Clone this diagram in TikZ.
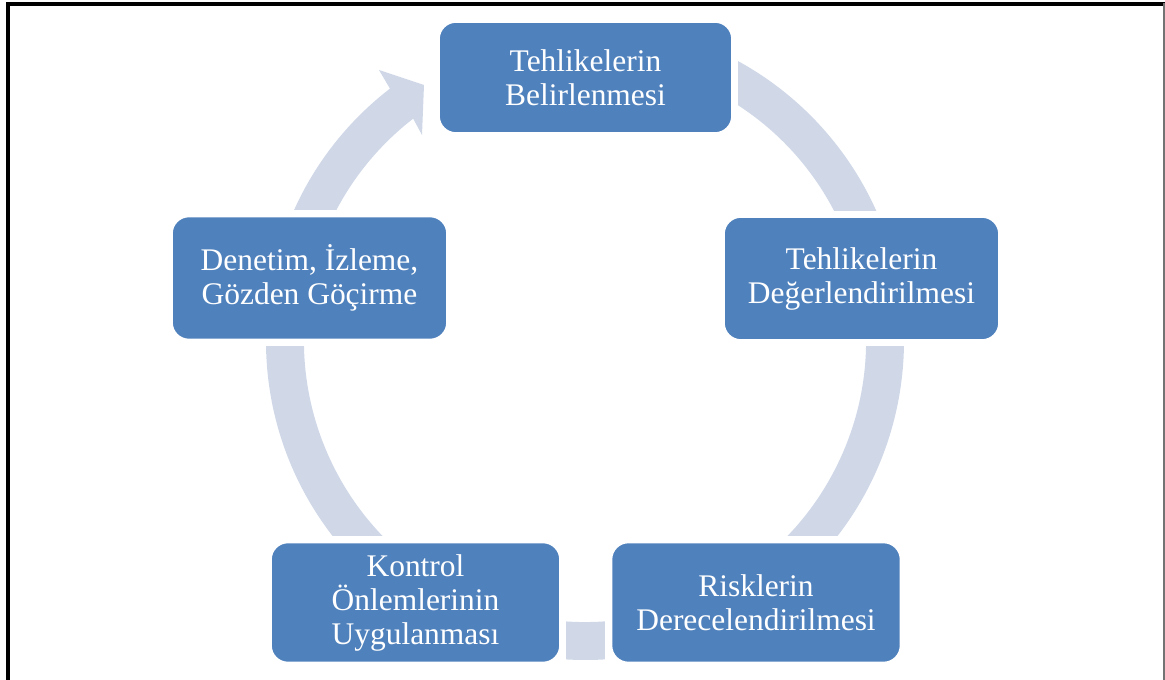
\documentclass[tikz,border=0pt]{standalone}
\usepackage{fontspec}
\setmainfont{Liberation Serif}
\usetikzlibrary{calc,backgrounds}
\definecolor{boxblue}{HTML}{4F81BD}
\definecolor{ringblue}{HTML}{D0D8E8}
\begin{document}
\begin{tikzpicture}[x=0.75pt,y=-0.75pt,
  stage/.style 2 args={draw=white, line width=1.2pt, fill=boxblue, rounded corners=12.75pt,
    text=white, align=center, inner sep=0pt,
    minimum width=#1*0.75pt, minimum height=#2*0.75pt,
    font=\fontsize{23.6}{25.5}\selectfont},
  ring/.style={fill=ringblue},
  gap/.style={fill=white}]
\useasboundingbox (0,0) rectangle (1165,680);
\coordinate (C) at (585,341);
% stages
\node[stage={293}{111}] (n1) at (585.5,77.5) {Tehlikelerin\\Belirlenmesi};
\node[stage={275}{123}] (n2) at (861.5,278.5) {Tehlikelerin\\Değerlendirilmesi};
\node[stage={289}{120}] (n3) at (756,602.5) {Risklerin\\Derecelendirilmesi};
\node[stage={289}{120}] (n4) at (415.5,602.5) {Kontrol\\Önlemlerinin\\Uygulanması};
\node[stage={275}{123}] (n5) at (309.5,278) {Denetim, İzleme,\\Gözden Göçirme};
\begin{pgfonlayer}{background}
% circular band with its arrow head pointing at the first stage
\fill[ring] ($(C)+(-127.7:319)$) arc[start angle=-127.7, end angle=-425, radius=319]
  -- ($(C)+(-425:281)$) arc[start angle=-425, end angle=-127.7, radius=281]
  -- (422,135) -- (424,85) -- (379,70) -- cycle;
% white margins cutting the band around each stage
\foreach \n in {n1,n2,n3,n4,n5}{
  \fill[gap] ($(\n.north west)+(-5.5,-5.5)$) rectangle ($(\n.south east)+(5.5,5.5)$);
}
\end{pgfonlayer}
% frame
\draw[black, line width=3pt] (8,680) -- (8,4.5) -- (1165,4.5);
\draw[black!55, line width=0.9pt] (1164,3) -- (1164,680);
\end{tikzpicture}
\end{document}
